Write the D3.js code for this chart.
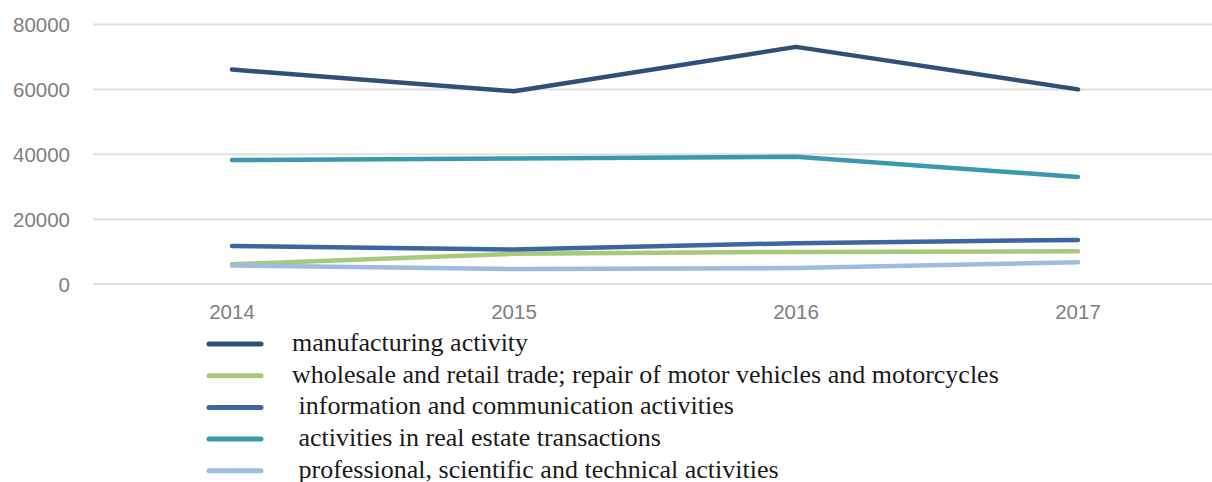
<!DOCTYPE html>
<html><head><meta charset="utf-8">
<script src="https://cdn.jsdelivr.net/npm/d3@7"></script>
<style>html,body{margin:0;padding:0;background:#fff;}svg{display:block;}</style>
</head><body>
<svg id="c" width="1212" height="482"></svg>
<script>
const years = ["2014", "2015", "2016", "2017"];
const yTicks = [0, 20000, 40000, 60000, 80000];
const seriesNames = [
  "manufacturing activity",
  "wholesale and retail trade; repair of motor vehicles and motorcycles",
  " information and communication activities",
  " activities in real estate transactions",
  " professional, scientific and technical activities"
];
const manufacturing = [66100, 59400, 73100, 60000];
const wholesale = [6100, 9300, 9900, 10100];
const infoComm = [11700, 10600, 12600, 13600];
const realEstate = [38200, 38700, 39200, 33000];
const professional = [5700, 4600, 4900, 6700];
const colors = ["#2f5079", "#a8c97b", "#3c66a0", "#3b99ad", "#9fbbe0"];

const seriesValues = [manufacturing, wholesale, infoComm, realEstate, professional];
const svg = d3.select("#c");
const x = d3.scaleBand().domain(years).range([91, 1219]);
const y = d3.scaleLinear().domain([0, 80000]).range([284, 24.5]);

// gridlines
svg.append("g").selectAll("line").data(yTicks).join("line")
  .attr("x1", 93).attr("x2", 1212)
  .attr("y1", d => y(d)).attr("y2", d => y(d))
  .attr("stroke", "#e0e0e0").attr("stroke-width", 2);

const yAxis = svg.append("g").attr("transform", "translate(70,0)")
  .call(d3.axisLeft(y).tickValues(yTicks).tickFormat(d3.format("d")).tickSize(0).tickPadding(0));
yAxis.select(".domain").remove();
yAxis.selectAll("text").attr("font-family", "Liberation Sans, Arial, sans-serif")
  .attr("font-size", 20.5).attr("fill", "#808080").attr("dy", "0.36em");

const xAxis = svg.append("g").attr("transform", "translate(0,302)")
  .call(d3.axisBottom(x).tickSize(0).tickPadding(2));
xAxis.select(".domain").remove();
xAxis.selectAll("text").attr("font-family", "Liberation Sans, Arial, sans-serif")
  .attr("font-size", 20.5).attr("fill", "#808080");

const line = d3.line().x((d, i) => x(years[i]) + x.bandwidth() / 2).y(d => y(d));
svg.append("g").selectAll("path").data(seriesValues).join("path")
  .attr("d", d => line(d)).attr("fill", "none")
  .attr("stroke", (d, i) => colors[i]).attr("stroke-width", 4.5)
  .attr("stroke-linecap", "round").attr("stroke-linejoin", "round");

// legend
const lg = svg.append("g").selectAll("g").data(seriesNames).join("g")
  .attr("transform", (d, i) => `translate(0,${344 + i * 31.7})`);
lg.append("line").attr("x1", 209).attr("x2", 261).attr("y1", 0).attr("y2", 0)
  .attr("stroke", (d, i) => colors[i]).attr("stroke-width", 5).attr("stroke-linecap", "round");
lg.append("text").attr("x", 292).attr("y", 7).text(d => d)
  .style("white-space", "pre").attr("xml:space", "preserve")
  .attr("font-family", "Liberation Serif, Times New Roman, serif")
  .attr("font-size", 26).attr("fill", "#1a1a1a");
</script>
</body></html>
